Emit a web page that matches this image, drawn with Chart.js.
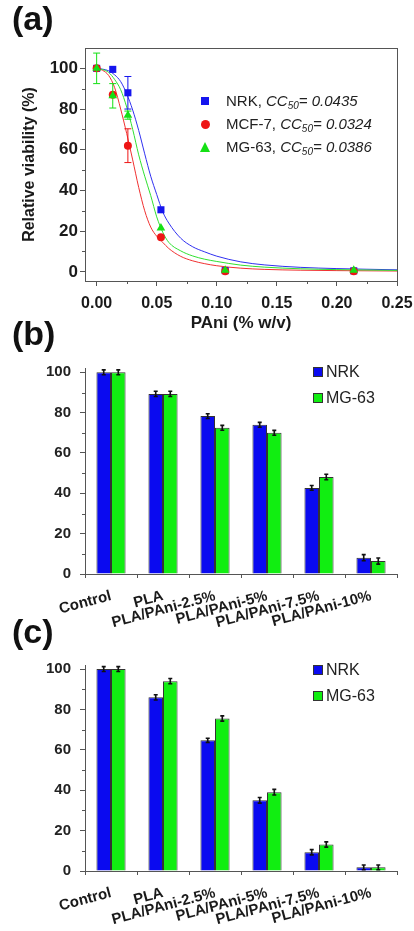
<!DOCTYPE html>
<html>
<head>
<meta charset="utf-8">
<title>Cell viability</title>
<script src="https://cdn.jsdelivr.net/npm/chart.js@4.4.1/dist/chart.umd.min.js"></script>
<style>
  body { margin:0; background:#fff; font-family:"Liberation Sans", Arial, sans-serif; }
  #page { position:relative; width:414px; height:931px; overflow:hidden; }
  canvas { position:absolute; left:0; }
  .tag { position:absolute; left:12px; font-size:34px; font-weight:bold; line-height:34px; color:#111; }
  .lg { position:absolute; white-space:nowrap; color:#222; }
  .lg sub { font-size:10px; vertical-align:-3px; line-height:0; }
  .mk { position:absolute; }
</style>
</head>
<body>
<div id="page">
  <canvas id="chartA" width="414" height="340" style="top:0"></canvas>
  <canvas id="chartB" width="414" height="290" style="top:345px"></canvas>
  <canvas id="chartC" width="414" height="291" style="top:640px"></canvas>

  <div class="tag" style="top:1px">(a)</div>
  <div class="tag" style="top:316px">(b)</div>
  <div class="tag" style="top:614px">(c)</div>

  <!-- legend (a) -->
  <div class="mk" style="left:201px;top:97px;width:8px;height:8px;background:#1515ee"></div>
  <div class="lg" style="left:226px;top:89px;font-size:15px;line-height:23px">NRK, <i>CC<sub>50</sub>= 0.0435</i></div>
  <div class="mk" style="left:201px;top:120px;width:9px;height:9px;border-radius:50%;background:#ee1515"></div>
  <div class="lg" style="left:226px;top:112px;font-size:15px;line-height:23px">MCF-7, <i>CC<sub>50</sub>= 0.0324</i></div>
  <div class="mk" style="left:200px;top:142px;width:0;height:0;border-left:5.5px solid transparent;border-right:5.5px solid transparent;border-bottom:10px solid #15e015"></div>
  <div class="lg" style="left:226px;top:135px;font-size:15px;line-height:23px">MG-63, <i>CC<sub>50</sub>= 0.0386</i></div>

  <!-- legend (b) -->
  <div class="mk" style="left:313px;top:367px;width:10px;height:10px;box-sizing:border-box;border:1px solid #333;background:#0a0af0"></div>
  <div class="lg" style="left:326px;top:361px;font-size:16px;line-height:22px">NRK</div>
  <div class="mk" style="left:313px;top:393px;width:10px;height:10px;box-sizing:border-box;border:1px solid #333;background:#11ee11"></div>
  <div class="lg" style="left:326px;top:387px;font-size:16px;line-height:22px">MG-63</div>

  <!-- legend (c) -->
  <div class="mk" style="left:313px;top:665px;width:10px;height:10px;box-sizing:border-box;border:1px solid #333;background:#0a0af0"></div>
  <div class="lg" style="left:326px;top:659px;font-size:16px;line-height:22px">NRK</div>
  <div class="mk" style="left:313px;top:691px;width:10px;height:10px;box-sizing:border-box;border:1px solid #333;background:#11ee11"></div>
  <div class="lg" style="left:326px;top:685px;font-size:16px;line-height:22px">MG-63</div>
</div>

<script>
// (a) measured points
var doseX = [0, 0.0134, 0.026, 0.0535, 0.107, 0.214];
var nrkPts = [100, 99.5, 88, 30.5, 0.6, 0.5];
var mcfPts = [100, 87, 62, 17, 0.3, 0.3];
var mgPts = [100, 86.5, 77, 21.5, 0.8, 0.8];
var nrkErr = [0, 0, 8, 0, 0, 0];
var mcfErr = [0, 0, 8.3, 0, 0, 0];
var mgErr = [7.5, 6, 2, 0, 0, 0];

// (a) fitted curves
var fitX = [0, 0.005, 0.01, 0.015, 0.02, 0.025, 0.03, 0.035, 0.04, 0.045, 0.05, 0.055, 0.06, 0.07, 0.08, 0.09, 0.10, 0.12, 0.14, 0.17, 0.20, 0.25];
var nrkFit = [100, 99.6, 98.8, 96.8, 93.5, 87.5, 79.5, 69.5, 58, 47, 38, 29.5, 24, 16.5, 12.3, 9.8, 7.7, 4.9, 3.4, 2.2, 1.6, 1.0];
var mcfFit = [100, 99, 96.5, 90.5, 80, 68, 55, 41.5, 30, 22, 17.5, 14.5, 11.5, 7.6, 5.4, 4.0, 3.0, 1.8, 1.2, 0.8, 0.6, 0.4];
var mgFit = [100, 99.4, 98, 94.5, 89.5, 81, 70, 57.5, 47, 37.5, 27, 19.5, 14.5, 10.3, 7.8, 6.2, 5.1, 3.3, 2.3, 1.5, 1.1, 0.7];

var xTicksA = [0, 0.05, 0.10, 0.15, 0.20, 0.25];
var xMinorA = [0.025, 0.075, 0.125, 0.175, 0.225];
var yTicksA = [0, 20, 40, 60, 80, 100];
var yMinorA = [10, 30, 50, 70, 90];

// (b) and (c)
var groups = ["Control", "PLA", "PLA/PAni-2.5%", "PLA/PAni-5%", "PLA/PAni-7.5%", "PLA/PAni-10%"];
var nrkB = [100, 89.3, 78.3, 74, 42.7, 8.1];
var mgB = [100, 89.3, 72.5, 70, 48.1, 6.4];
var nrkBErr = [1.2, 1.3, 1.2, 1.2, 1.2, 1.5];
var mgBErr = [1.2, 1.3, 1.2, 1.2, 1.4, 1.5];
var nrkC = [100, 86, 64.7, 35, 9.3, 1.8];
var mgC = [100, 94, 75.5, 39, 13.1, 1.8];
var nrkCErr = [1.2, 1.3, 1.0, 1.4, 1.3, 1.2];
var mgCErr = [1.2, 1.3, 1.3, 1.4, 1.3, 1.2];
var barTicks = [0, 20, 40, 60, 80, 100];
var barMinor = [10, 30, 50, 70, 90];

Chart.defaults.font.family = '"Liberation Sans", Arial, sans-serif';
Chart.defaults.animation = false;

function pts(xs, ys) {
  return xs.map(function (x, i) { return { x: x, y: ys[i] }; });
}

function valueOf(d) {
  return (typeof d === 'object') ? d.y : d;
}

// vertical error bars with caps
var errPlugin = {
  id: 'errbars',
  afterDatasetsDraw: function (chart) {
    var ctx = chart.ctx;
    var ys = chart.scales.y;
    chart.data.datasets.forEach(function (ds, i) {
      if (!ds.errors) return;
      var meta = chart.getDatasetMeta(i);
      ctx.save();
      ctx.strokeStyle = ds.errColor;
      ctx.lineWidth = ds.errWidth;
      meta.data.forEach(function (el, j) {
        var e = ds.errors[j];
        if (!e) return;
        var v = valueOf(ds.data[j]);
        var t = ys.getPixelForValue(v + e);
        var b = ys.getPixelForValue(v - e);
        var x = el.x;
        ctx.beginPath();
        ctx.moveTo(x, t); ctx.lineTo(x, b);
        ctx.moveTo(x - ds.capW, t); ctx.lineTo(x + ds.capW, t);
        ctx.moveTo(x - ds.capW, b); ctx.lineTo(x + ds.capW, b);
        ctx.stroke();
      });
      ctx.restore();
    });
  }
};

// minor ticks and optional frame
var minorPlugin = {
  id: 'minorTicks',
  afterDraw: function (chart, args, opts) {
    var ctx = chart.ctx;
    var a = chart.chartArea;
    ctx.save();
    ctx.strokeStyle = opts.color;
    ctx.lineWidth = 1;
    (opts.y || []).forEach(function (v) {
      var p = Math.round(chart.scales.y.getPixelForValue(v)) + 0.5;
      ctx.beginPath(); ctx.moveTo(a.left - opts.len, p); ctx.lineTo(a.left, p); ctx.stroke();
    });
    (opts.x || []).forEach(function (v) {
      var p = Math.round(chart.scales.x.getPixelForValue(v)) + 0.5;
      ctx.beginPath(); ctx.moveTo(p, a.bottom); ctx.lineTo(p, a.bottom + opts.len); ctx.stroke();
    });
    if (opts.box) {
      ctx.strokeRect(Math.round(a.left) + 0.5, Math.round(a.top) + 0.5, Math.round(a.right - a.left), Math.round(a.bottom - a.top));
    }
    ctx.restore();
  }
};

function pointSet(label, ys, errs, color, style, r) {
  return {
    label: label, data: pts(doseX, ys), showLine: false,
    pointStyle: style, pointRadius: r, pointBackgroundColor: color, pointBorderColor: color, pointBorderWidth: 0,
    errors: errs, errColor: color, errWidth: 1, capW: 3.5
  };
}

function curveSet(ys, color) {
  return {
    data: pts(fitX, ys), showLine: true, pointRadius: 0, borderColor: color, borderWidth: 1,
    cubicInterpolationMode: 'monotone', fill: false
  };
}

new Chart(document.getElementById('chartA'), {
  type: 'scatter',
  data: {
    datasets: [
      pointSet('MG-63', mgPts, mgErr, '#15e015', 'triangle', 5),
      pointSet('MCF-7', mcfPts, mcfErr, '#ee1515', 'circle', 4),
      pointSet('NRK', nrkPts, nrkErr, '#1515ee', 'rect', 5),
      curveSet(mgFit, '#30e030'),
      curveSet(mcfFit, '#f03030'),
      curveSet(nrkFit, '#3030f0')
    ]
  },
  options: {
    responsive: false,
    layout: { padding: { top: 48, right: 17, left: 0, bottom: 0 } },
    plugins: {
      legend: { display: false },
      tooltip: { enabled: false },
      minorTicks: { y: yMinorA, x: xMinorA, len: 3, color: '#555', box: true }
    },
    scales: {
      x: {
        type: 'linear', min: -0.0097, max: 0.25,
        afterBuildTicks: function (s) { s.ticks = xTicksA.map(function (v) { return { value: v }; }); },
        afterFit: function (s) { s.height = 59; s.paddingRight = 0; s.paddingLeft = 0; },
        grid: { drawOnChartArea: false, drawTicks: true, tickLength: 5, tickColor: '#555' },
        border: { display: true, color: '#555' },
        ticks: {
          font: { size: 16, weight: 'bold' }, color: '#1a1a1a', padding: 8,
          callback: function (v) { return v.toFixed(2); }
        },
        title: { display: true, text: 'PAni (% w/v)', font: { size: 17, weight: 'bold' }, color: '#1a1a1a', padding: { top: 0, bottom: 6 } }
      },
      y: {
        min: -4.5, max: 110,
        afterBuildTicks: function (s) { s.ticks = yTicksA.map(function (v) { return { value: v }; }); },
        afterFit: function (s) { s.width = 85; },
        grid: { drawOnChartArea: false, drawTicks: true, tickLength: 5, tickColor: '#555' },
        border: { display: true, color: '#555' },
        ticks: { font: { size: 17, weight: 'bold' }, color: '#1a1a1a', padding: 2 },
        title: { display: true, text: 'Relative viability (%)', font: { size: 16, weight: 'bold' }, color: '#1a1a1a', padding: { top: 20, bottom: 0 } }
      }
    }
  },
  plugins: [errPlugin, minorPlugin]
});

function makeBar(id, nrk, mg, nrkE, mgE, top, xh) {
  return new Chart(document.getElementById(id), {
    type: 'bar',
    data: {
      labels: groups,
      datasets: [
        { label: 'NRK', data: nrk, backgroundColor: '#0a0af0', borderColor: '#333', borderWidth: 1,
          errors: nrkE, errColor: '#111', errWidth: 1.6, capW: 2 },
        { label: 'MG-63', data: mg, backgroundColor: '#11ee11', borderColor: '#333', borderWidth: 1,
          errors: mgE, errColor: '#111', errWidth: 1.6, capW: 2 }
      ]
    },
    options: {
      responsive: false,
      layout: { padding: { top: top, right: 17, left: 0, bottom: 0 } },
      plugins: {
        legend: { display: false },
        tooltip: { enabled: false },
        minorTicks: { y: barMinor, len: 3, color: '#555', box: false }
      },
      datasets: { bar: { barPercentage: 1, categoryPercentage: 0.56 } },
      scales: {
        x: {
          afterFit: function (s) { s.height = xh; },
          grid: { drawOnChartArea: false, drawTicks: true, tickLength: 4, tickColor: '#555', offset: true },
          border: { display: true, color: '#555' },
          ticks: { font: { size: 15, weight: 'bold' }, color: '#1a1a1a', padding: 9, autoSkip: false, minRotation: 15, maxRotation: 15 }
        },
        y: {
          min: 0, max: 102,
          afterBuildTicks: function (s) { s.ticks = barTicks.map(function (v) { return { value: v }; }); },
          afterFit: function (s) { s.width = 85; },
          grid: { drawOnChartArea: false, drawTicks: true, tickLength: 5, tickColor: '#555' },
          border: { display: true, color: '#555' },
          ticks: { font: { size: 15, weight: 'bold' }, color: '#222', padding: 9 }
        }
      }
    },
    plugins: [errPlugin, minorPlugin]
  });
}

makeBar('chartB', nrkB, mgB, nrkBErr, mgBErr, 23.3, 61);
makeBar('chartC', nrkC, mgC, nrkCErr, mgCErr, 25, 60);
</script>
</body>
</html>
